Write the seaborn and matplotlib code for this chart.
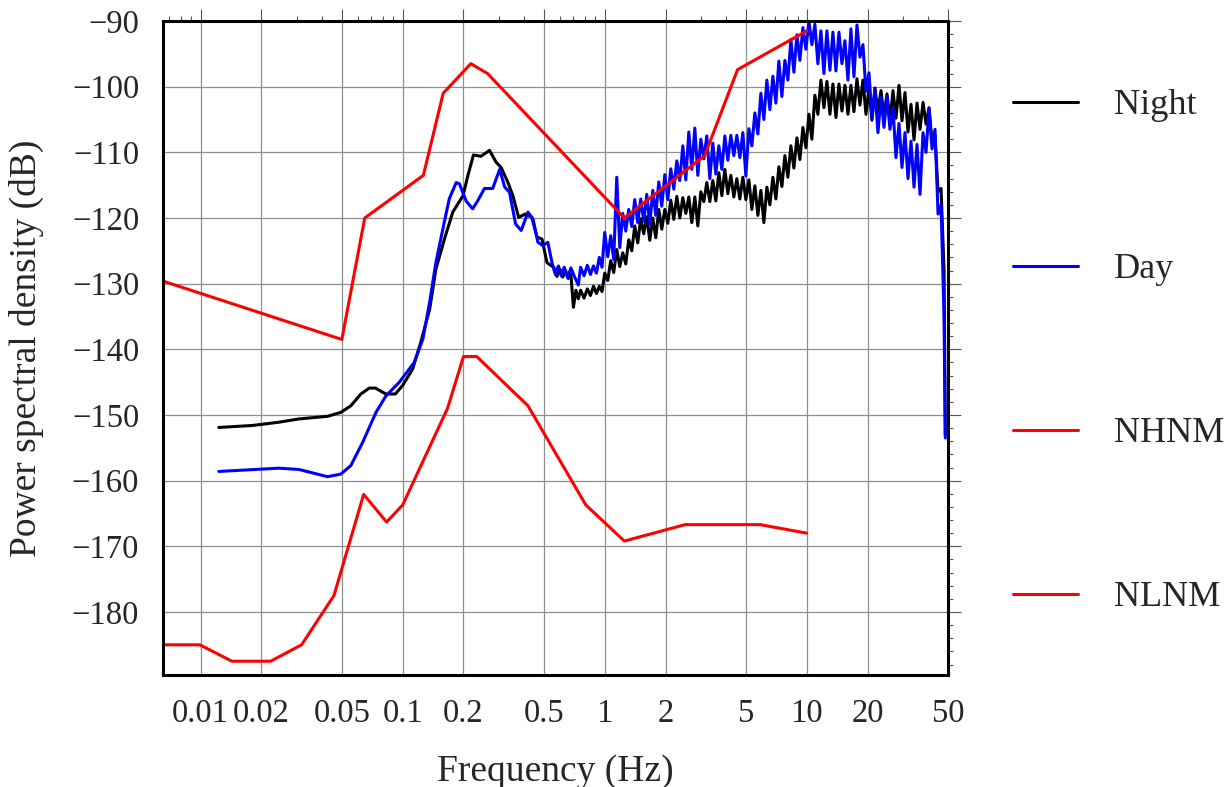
import numpy as np
import pandas as pd
import matplotlib
matplotlib.use("Agg")
import matplotlib.pyplot as plt
import matplotlib.ticker as mticker
import seaborn as sns

# ---------------- data ----------------
# Night PSD (low-frequency part, smooth)
night_f_low = [0.0123, 0.018, 0.0244, 0.0307, 0.0425, 0.0494, 0.0554, 0.0621, 0.0684, 0.0732,
               0.0826, 0.092, 0.1, 0.112, 0.123, 0.136, 0.146, 0.161, 0.177, 0.199,
               0.210, 0.224, 0.244, 0.269, 0.290, 0.307, 0.332, 0.351, 0.375, 0.404,
               0.436, 0.462, 0.489, 0.518, 0.54, 0.56, 0.58, 0.60, 0.62, 0.64,
               0.66, 0.68, 0.70, 0.72, 0.74, 0.76, 0.79, 0.82, 0.85, 0.88,
               0.91, 0.94, 0.97]
night_v_low = [-151.9, -151.6, -151.1, -150.6, -150.2, -149.6, -148.6, -146.8, -145.9, -145.9,
               -146.8, -146.8, -145.5, -143.0, -138.9, -133.9, -127.8, -123.2, -119.1, -116.6,
               -113.6, -110.4, -110.6, -109.7, -111.5, -112.3, -114.6, -116.6, -119.9, -119.4,
               -119.9, -122.9, -123.2, -126.8, -127.2, -127.5, -128.9, -127.8, -129.0, -128.0,
               -129.2, -128.6, -133.6, -131.0, -132.3, -131.0, -132.2, -130.8, -131.8, -130.4,
               -131.5, -130.4, -131.2]

# Day PSD (low-frequency part)
day_f_low = [0.0123, 0.0244, 0.0307, 0.0425, 0.0494, 0.0554, 0.0633, 0.0738, 0.0826, 0.0963,
             0.114, 0.126, 0.136, 0.146, 0.158, 0.170, 0.184, 0.191, 0.206, 0.222,
             0.235, 0.254, 0.279, 0.302, 0.320, 0.338, 0.362, 0.386, 0.417, 0.442,
             0.467, 0.494, 0.523, 0.55, 0.57, 0.59, 0.61, 0.63, 0.655, 0.68,
             0.71, 0.74, 0.76, 0.79, 0.82, 0.85, 0.88, 0.91, 0.94, 0.97]
day_v_low = [-158.6, -158.1, -158.3, -159.4, -159.0, -157.7, -154.2, -149.6, -147.1, -145.0,
             -142.0, -138.4, -132.8, -126.8, -121.7, -117.1, -114.6, -114.8, -117.4, -118.6,
             -117.4, -115.5, -115.5, -112.6, -115.3, -116.1, -120.9, -121.9, -119.1, -120.2,
             -123.7, -124.2, -123.7, -127.0, -128.6, -127.3, -128.8, -127.5, -129.1, -127.6,
             -129.0, -130.2, -127.5, -128.8, -127.2, -128.6, -127.3, -128.4, -126.0, -127.5]

# Common frequency grid of the noisy high-frequency part (Hz)
hf_freq = [1.000, 1.035, 1.071, 1.108, 1.147, 1.187, 1.228, 1.271, 1.315, 1.361,
           1.408, 1.457, 1.508, 1.560, 1.615, 1.671, 1.729, 1.789, 1.852, 1.916,
           1.983, 2.052, 2.123, 2.197, 2.274, 2.353, 2.435, 2.520, 2.607, 2.698,
           2.792, 2.889, 2.990, 3.094, 3.201, 3.313, 3.428, 3.547, 3.671, 3.799,
           3.931, 4.068, 4.209, 4.356, 4.507, 4.664, 4.827, 4.995, 5.169, 5.348,
           5.535, 5.727, 5.927, 6.133, 6.346, 6.567, 6.796, 7.032, 7.277, 7.531,
           7.793, 8.064, 8.345, 8.635, 8.936, 9.247, 9.569, 9.902, 10.25, 10.60,
           10.97, 11.35, 11.75, 12.16, 12.58, 13.02, 13.47, 13.94, 14.43, 14.93,
           15.45, 15.99, 16.54, 17.12, 17.72, 18.33, 18.97, 19.63, 20.32, 21.02,
           21.75, 22.51, 23.30, 24.11, 24.95, 25.81, 26.71, 27.64, 28.61, 29.60,
           30.63, 31.70, 32.80, 33.95, 35.13, 36.35, 37.62, 38.93, 40.28, 41.68,
           43.13, 44.64, 46.19, 47.80, 48.5]

night_v_hf = [-128.4, -129.5, -126.5, -128.3, -124.8, -127.4, -125.3, -127.0, -123.3, -125.0,
              -121.2, -123.8, -120.1, -122.4, -119.8, -123.4, -120.0, -123.0, -118.7, -121.7,
              -118.7, -120.8, -117.3, -120.2, -116.7, -120.0, -116.9, -119.3, -116.8, -120.7,
              -116.8, -121.2, -116.0, -117.5, -114.6, -117.5, -114.3, -117.4, -113.1, -116.6,
              -112.6, -116.3, -113.5, -116.8, -114.0, -117.1, -113.8, -117.2, -114.2, -118.7,
              -115.1, -119.6, -115.8, -120.7, -115.3, -118.0, -113.8, -117.1, -112.2, -115.2,
              -110.5, -113.8, -109.0, -112.4, -107.8, -111.1, -106.2, -109.3, -104.2, -108.0,
              -101.3, -104.2, -99.0, -103.2, -99.2, -104.2, -99.6, -104.7, -99.6, -103.7,
              -99.8, -104.2, -99.8, -103.8, -98.8, -102.8, -99.0, -104.2, -100.2, -105.1,
              -100.2, -103.9, -100.6, -104.5, -101.1, -105.3, -100.6, -104.8, -99.8, -105.2,
              -100.9, -106.9, -102.7, -108.1, -102.5, -106.5, -102.4, -105.7, -103.2, -108.3,
              -107.5, -116.0, -115.5, -128.0, -153.0]

day_v_hf = [-122.2, -125.9, -122.7, -126.3, -113.8, -124.5, -119.3, -122.0, -118.7, -121.3,
            -117.2, -120.7, -117.1, -120.5, -116.4, -121.0, -115.8, -119.6, -114.5, -118.2,
            -113.4, -117.2, -112.5, -115.6, -111.3, -114.3, -109.0, -114.2, -106.9, -112.6,
            -106.3, -113.5, -108.0, -111.0, -107.5, -114.0, -108.6, -113.3, -109.0, -112.6,
            -107.5, -111.2, -107.4, -110.5, -107.4, -110.8, -107.0, -113.6, -106.4, -109.0,
            -104.0, -107.2, -101.0, -105.0, -99.0, -103.5, -98.4, -102.5, -96.1, -101.5,
            -96.0, -99.0, -92.8, -97.8, -92.1, -96.0, -91.0, -94.3, -90.0, -93.6,
            -90.5, -96.5, -91.5, -98.0, -91.5, -97.5, -91.7, -97.6, -91.7, -96.5,
            -93.0, -99.0, -91.2, -98.5, -90.6, -95.5, -93.6, -100.7, -97.9, -104.7,
            -100.5, -107.0, -101.6, -106.2, -101.5, -106.5, -103.2, -110.8, -105.6, -112.3,
            -107.0, -114.0, -108.3, -115.3, -108.8, -116.4, -107.0, -110.0, -103.3, -109.5,
            -106.5, -119.4, -118.0, -135.0, -153.5]

# Peterson noise models
nhnm_f = [1 / 154, 0.05, 0.0649, 0.1266, 0.1587, 0.2174, 0.2632, 1.25, 3.125, 4.545, 10.0]
nhnm_v = [-129.6, -138.5, -120.0, -113.5, -101.0, -96.5, -98.0, -120.0, -110.5, -97.4, -91.5]

nlnm_f = [1 / 154, 0.0099, 0.01429, 0.0222, 0.0316, 0.0457, 0.0641, 0.0833, 0.1, 0.1667,
          0.2, 0.2326, 0.417, 0.806, 1.25, 2.5, 5.88, 10.0]
nlnm_v = [-185.0, -185.0, -187.5, -187.5, -185.0, -177.5, -162.1, -166.3, -163.7, -149.0,
          -141.1, -141.1, -148.6, -163.7, -169.2, -166.7, -166.7, -168.0]

xtick_vals = [0.01, 0.02, 0.05, 0.1, 0.2, 0.5, 1, 2, 5, 10, 20, 50]
xtick_labels = ["0.01", "0.02", "0.05", "0.1", "0.2", "0.5", "1", "2", "5", "10", "20", "50"]
ytick_vals = [-180, -170, -160, -150, -140, -130, -120, -110, -100, -90]

# ---------------- style ----------------
sns.set_theme(style="white")
plt.rcParams["font.family"] = ["Liberation Serif", "DejaVu Serif"]
plt.rcParams["axes.unicode_minus"] = True

fig = plt.figure(figsize=(12.31, 7.87), dpi=100)
ax = fig.add_axes([0.1322, 0.1423, 0.7701 - 0.1322, 0.9733 - 0.1423])

series = [
    ("Night", night_f_low + hf_freq, night_v_low + night_v_hf, "#000000"),
    ("Day", day_f_low + hf_freq, day_v_low + day_v_hf, "#0000ff"),
    ("NHNM", nhnm_f, nhnm_v, "#ff0000"),
    ("NLNM", nlnm_f, nlnm_v, "#ff0000"),
]
for name, f, v, c in series:
    df = pd.DataFrame({"freq": f, "psd": v})
    sns.lineplot(data=df, x="freq", y="psd", ax=ax, color=c, lw=2.2,
                 estimator=None, sort=False, label=name)

ax.set_xscale("log")
ax.set_xlim(1 / 154, 50)
ax.set_ylim(-189.6, -90)

ax.xaxis.set_major_locator(mticker.FixedLocator(xtick_vals))
ax.xaxis.set_major_formatter(mticker.FixedFormatter(xtick_labels))
ax.xaxis.set_minor_locator(mticker.LogLocator(base=10, subs=np.arange(2, 10), numticks=100))
ax.xaxis.set_minor_formatter(mticker.NullFormatter())
ax.yaxis.set_major_locator(mticker.FixedLocator(ytick_vals))
ax.yaxis.set_minor_locator(mticker.MultipleLocator(2))

ax.grid(True, which="major", color="#8f8f8f", lw=0.9)
ax.set_axisbelow(True)

ax.tick_params(which="both", direction="out", top=True, right=True,
               labeltop=False, labelright=False, color="#555555", width=0.8)
ax.tick_params(which="major", length=9, labelsize=23.5, pad=8)
ax.tick_params(which="minor", length=3.8)

for s in ax.spines.values():
    s.set_linewidth(2.2)
    s.set_color("black")
    s.set_visible(True)

ax.set_xlabel("Frequency (Hz)", fontsize=27, labelpad=18)
ax.set_ylabel("Power spectral density (dB)", fontsize=27, labelpad=20)

ax.legend(loc="upper left", bbox_to_anchor=(0.823, 0.887), bbox_transform=fig.transFigure,
          frameon=False, fontsize=26, handlelength=1.8, handletextpad=1.0,
          labelspacing=3.62, borderpad=0, borderaxespad=0)

fig.savefig("out.png", dpi=100)
